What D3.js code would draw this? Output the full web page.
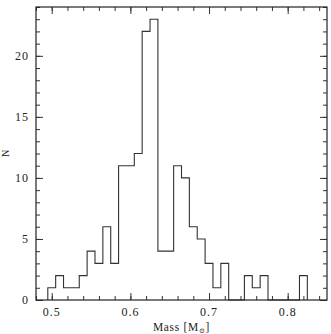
<!DOCTYPE html>
<html>
<head>
<meta charset="utf-8">
<script src="https://cdn.jsdelivr.net/npm/d3@7"></script>
<style>
  body { margin: 0; background: #fff; }
  text { font-family: "Liberation Serif", "DejaVu Serif", serif; fill: #222; }
</style>
</head>
<body>
<div id="chart"></div>
<script>
// bin left edges (width 0.01) and counts
const binWidth = 0.01;
const binStarts = [0.495, 0.505, 0.515, 0.525, 0.535, 0.545, 0.555, 0.565, 0.575, 0.585,
                   0.595, 0.605, 0.615, 0.625, 0.635, 0.645, 0.655, 0.665, 0.675, 0.685,
                   0.695, 0.705, 0.715, 0.725, 0.735, 0.745, 0.755, 0.765, 0.775, 0.785,
                   0.795, 0.805, 0.815];
const counts = [1, 2, 1, 1, 2, 4, 3, 6, 3, 11,
                11, 12, 22, 23, 4, 4, 11, 10, 6, 5,
                3, 1, 3, 0, 0, 2, 1, 2, 0, 0,
                0, 0, 2];
const xTickLabels = [0.5, 0.6, 0.7, 0.8];
const yTickLabels = [0, 5, 10, 15, 20];

const W = 331, H = 334;
const margin = { top: 7, right: 4, bottom: 34, left: 36 };
const width = W - margin.left - margin.right,
      height = H - margin.top - margin.bottom;

const svg = d3.select("#chart").append("svg")
    .attr("width", W).attr("height", H);
const g = svg.append("g")
    .attr("transform", `translate(${margin.left},${margin.top})`);

const x = d3.scaleLinear().domain([0.48, 0.85]).range([0, width]);
const y = d3.scaleLinear().domain([0, 24]).range([height, 0]);

// histogram outline
const pts = [[binStarts[0], 0]];
binStarts.forEach((b, i) => {
    pts.push([b, counts[i]]);
    pts.push([b + binWidth, counts[i]]);
});
pts.push([binStarts[binStarts.length - 1] + binWidth, 0]);

g.append("path")
    .datum(pts)
    .attr("fill", "none")
    .attr("stroke", "#333")
    .attr("stroke-width", 1.1)
    .attr("d", d3.line().x(d => x(d[0])).y(d => y(d[1])));

// inward ticks on all four sides
const xMinor = d3.range(0.48, 0.851, 0.02).map(v => +v.toFixed(2));
const yMinor = d3.range(0, 25, 1);

function tickAxis(axis, scale, majors, minors, transform) {
    const a = g.append("g").attr("transform", transform);
    a.call(axis(scale).tickValues(minors).tickSize(4).tickFormat(""));
    a.append("g").call(axis(scale).tickValues(majors).tickSize(7).tickFormat(""));
    a.selectAll(".domain").remove();
    a.selectAll("line").attr("stroke", "#333");
    return a;
}
tickAxis(d3.axisTop, x, xTickLabels, xMinor, `translate(0,${height})`);
tickAxis(d3.axisBottom, x, xTickLabels, xMinor, "translate(0,0)");
tickAxis(d3.axisRight, y, yTickLabels, yMinor, "translate(0,0)");
tickAxis(d3.axisLeft, y, yTickLabels, yMinor, `translate(${width},0)`);

g.append("rect")
    .attr("width", width).attr("height", height)
    .attr("fill", "none").attr("stroke", "#222").attr("stroke-width", 1.2);

// tick labels
g.selectAll(".xl").data(xTickLabels).enter().append("text")
    .attr("x", d => x(d)).attr("y", height + 16)
    .attr("text-anchor", "middle").style("font-size", "12px")
    .style("letter-spacing", "1px")
    .text(d => d.toFixed(1));
g.selectAll(".yl").data(yTickLabels).enter().append("text")
    .attr("x", -7).attr("y", d => y(d) + 4)
    .attr("text-anchor", "end").style("font-size", "12px")
    .style("letter-spacing", "1px")
    .text(d => d);

// axis titles
const xt = g.append("text")
    .attr("x", width / 2).attr("y", height + 31)
    .attr("text-anchor", "middle").style("font-size", "11.5px")
    .style("letter-spacing", "0.7px");
xt.append("tspan").text("Mass [M");
xt.append("tspan").text("\u2299").attr("dy", 2).style("font-size", "7px");
xt.append("tspan").text("]").attr("dy", -2);

g.append("text")
    .attr("transform", `translate(${-27},${height / 2}) rotate(-90)`)
    .attr("text-anchor", "middle").style("font-size", "10px")
    .text("N");
</script>
</body>
</html>
